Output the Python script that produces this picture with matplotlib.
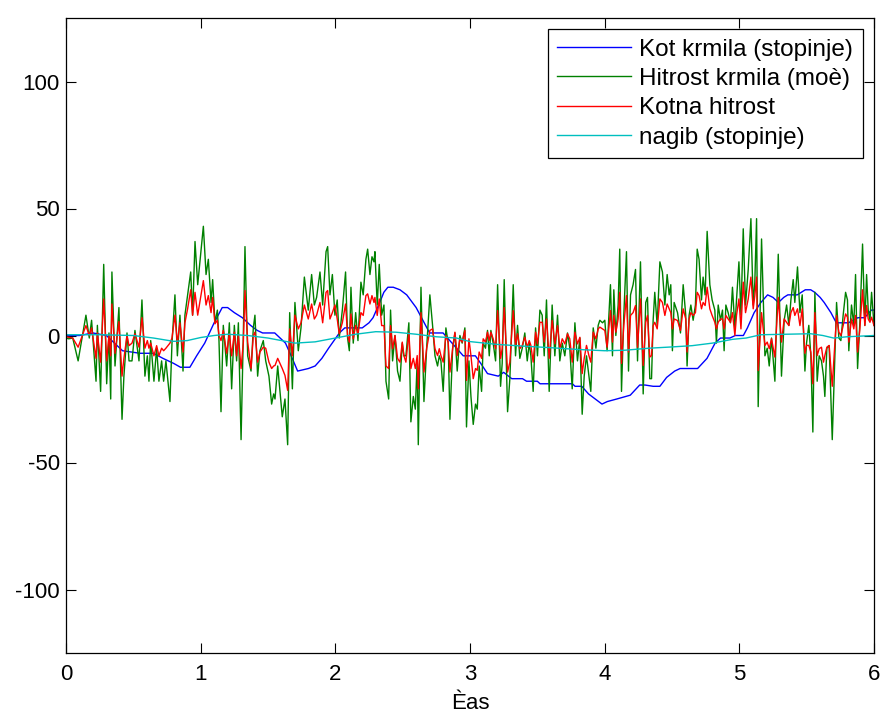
import matplotlib
matplotlib.use('Agg')
import matplotlib.pyplot as plt

plt.rcParams['font.family'] = ['Liberation Sans', 'DejaVu Sans']
plt.rcParams['axes.unicode_minus'] = False

# time samples for the fast signals
t = [0.0, 0.02, 0.05, 0.09, 0.148, 0.173, 0.19, 0.223, 0.233, 0.257, 0.28, 0.302, 0.319, 0.332, 0.341,
     0.364, 0.393, 0.416, 0.43, 0.453, 0.468, 0.49, 0.512, 0.542, 0.564, 0.586, 0.604, 0.616, 0.629,
     0.653, 0.673, 0.69, 0.71, 0.725, 0.742, 0.772, 0.787, 0.809, 0.827, 0.846, 0.869, 0.883, 0.903,
     0.926, 0.94,
     0.958, 0.978, 1.02, 1.04, 1.057, 1.077, 1.089, 1.106, 1.124, 1.136, 1.151, 1.168, 1.193, 1.213,
     1.23, 1.25, 1.267, 1.28, 1.3, 1.317, 1.329, 1.349, 1.374, 1.391, 1.403, 1.423, 1.44, 1.465, 1.483,
     1.507, 1.527, 1.542, 1.552, 1.572, 1.606, 1.626, 1.646, 1.661, 1.681, 1.7, 1.725, 1.745, 1.77,
     1.799, 1.824, 1.844, 1.861, 1.886, 1.906, 1.931, 1.943, 1.96, 1.978,
     1.997, 2.014, 2.029, 2.052, 2.076, 2.091, 2.104, 2.116, 2.133, 2.151, 2.168, 2.19, 2.207, 2.227,
     2.24, 2.257, 2.272, 2.287, 2.294, 2.311, 2.326, 2.344, 2.361, 2.376, 2.396, 2.41, 2.425, 2.443,
     2.462, 2.48, 2.497, 2.509, 2.524, 2.546, 2.561, 2.579, 2.594, 2.608, 2.616, 2.636, 2.658, 2.678,
     2.702, 2.722, 2.74, 2.759, 2.772, 2.784, 2.801, 2.821, 2.838, 2.851, 2.871, 2.888, 2.905, 2.925,
     2.942, 2.962,
     2.974, 2.992, 3.007, 3.024, 3.041, 3.054, 3.068, 3.086, 3.098, 3.115, 3.13, 3.143, 3.155, 3.172,
     3.19, 3.205, 3.227, 3.239, 3.254, 3.279, 3.296, 3.321, 3.338, 3.353, 3.37, 3.388, 3.407, 3.425,
     3.44, 3.452, 3.469, 3.487, 3.501, 3.519, 3.536, 3.551, 3.568, 3.588, 3.61, 3.63, 3.65, 3.667,
     3.685, 3.704, 3.724, 3.741, 3.759, 3.779, 3.798, 3.816, 3.833, 3.848, 3.865, 3.883, 3.897, 3.915,
     3.935, 3.952,
     3.964, 3.984, 4.001, 4.018, 4.043, 4.058, 4.068, 4.083, 4.1, 4.112, 4.125, 4.142, 4.162, 4.177,
     4.192, 4.211, 4.229, 4.244, 4.266, 4.286, 4.305, 4.318, 4.335, 4.348, 4.36, 4.372, 4.39, 4.41,
     4.429, 4.447, 4.464, 4.479, 4.491, 4.503, 4.516, 4.541, 4.563, 4.583, 4.602, 4.612, 4.627, 4.64,
     4.657, 4.674, 4.687, 4.701, 4.719, 4.731, 4.746, 4.761, 4.781, 4.798, 4.818, 4.83, 4.843, 4.86,
     4.875, 4.887, 4.9, 4.917, 4.934, 4.949,
     4.967, 4.979, 4.997, 5.012, 5.029, 5.046, 5.066, 5.086, 5.103, 5.115, 5.128, 5.14, 5.165, 5.19,
     5.207, 5.222, 5.239, 5.264, 5.289, 5.313, 5.333, 5.351, 5.368, 5.383, 5.4, 5.412, 5.432, 5.45,
     5.467, 5.487, 5.499, 5.516, 5.531, 5.546, 5.561, 5.578, 5.593, 5.61, 5.625, 5.635, 5.65, 5.667,
     5.69, 5.704, 5.722, 5.739, 5.754, 5.771, 5.789, 5.803, 5.813, 5.833, 5.85, 5.863, 5.878, 5.895,
     5.915, 5.932, 5.945, 5.957, 5.97, 5.982, 6.0]

hitrost_krmila = [
    -1, -1.3, -1, -10, 8, -1, 6, -18, 4, -22, 28, -19, 1, -25, 25, -12, 11, -33, -16, 1, -10, -10, 2,
    -10, 14, -16, -8, -18, -2, -18, -5, -18, -10, -18, -10, -26, -3, 16, -8, 8, -14, 8, 16, 25, 8,
    37, 20, 43, 24, 30, 13, 22, 5, 10, -2, -30, 4, -12, 5, -21, 4, -10, 5, -41, 1, 35, -8, -14, 3, 8,
    -16, -6, -2, -10, -16, -27, -23, -25, -12, -32, -25, -43, 9, -21, 13, -6, 3, 23, 10, 24, 12, 15,
    25, 12, 33, 35, 16, 24,
    8, 14, -1, 10, 25, -1, -6, 19, -3, 9, -2, 21, 16, 30, 34, 24, 31, 29, 33, 12, 28, 8, 12, -18, -25,
    10, -10, 0, -14, -18, -3, -8, -8, 5, -34, -24, -29, -10, -43, 19, -26, -5, 16, 4, -8, -12, -8, -10,
    -22, 3, -3, -33, -5, 1, -14, 0, -3, 3,
    -36, -10, -24, -35, -27, -29, -12, -22, -3, -5, 2, -8, 2, -3, -10, 20, -20, -11, 22, -30, -17, 20,
    -8, 4, -9, -5, 1, -10, -3, -8, -22, 3, -8, 10, 8, -8, 14, -22, 12, -8, 8, -10, -3, -8, 1, -5, -21,
    5, -10, -1, -31, -16, -8, -16, -22, 3, -5, 4,
    6, 5, 6, -6, 20, -8, 18, 0, 12, 34, -22, 8, 33, -14, 16, 20, 26, -10, 29, -23, 13, 15, -17, -17, 6,
    17, 4, 29, 25, 12, 24, 16, 20, -6, 13, 9, 1, 20, 8, -12, 8, 12, 6, 12, 34, 30, 14, 23, 16, 41, 20,
    14, 10, -3, 12, 6, 10, -6, 12, 9, 5, 19,
    3, 14, 29, 8, 42, 12, 26, 46, 12, 21, 46, -28, 38, -8, -5, -12, -1, -18, 32, -16, 6, 12, 4, 14, 22,
    13, 27, 9, 16, -14, -3, 4, -8, -38, 17, -18, -8, -10, -16, -24, -5, -4, -41, -17, 13, -1, -2, 8,
    17, 14, -6, 12, 4, 24, -13, 5, 36, 4, 24, 10, 6, 17, 4]

kotna_hitrost = [
    -0.5, -0.7, -1, -4.6, 3.9, 0, 3, -9, 1, -10.5, 14.4, -10, 0, -8, 12.4, -7, 5.5, -16, -9, 0, -4, -3,
    0.7, -4.6, 7, -5, -2, -5, -3, -8, -4, -8, -5, -6, -5, -3, -1, 8, -3, 5, -6.5, 5, 10.5, 18, 8,
    17, 8, 21.6, 12, 15.7, 9, 15, 4.6, 6, 0, -2, 2, -7, 0.7, -8, 1.3, -8, 0, -13, -2.6, 17.7, -2.6, -13,
    0, 1.3, -10.5, -6.5, -4.6, -5, -10.5, -13, -12, -11.8, -9, -13, -15.7, -21.6, 2.6, -8, 8, 2.6, 5,
    12, 6.5, 12.4, 6.5, 8, 13, 5, 17, 17.7, 6.5, 9,
    12, 6.5, 0.7, 5, 12.4, 0, -2.6, 8.5, -1.3, 4, 0.7, 9, 7.9, 15.7, 16.4, 12.4, 15.7, 13, 15, 7.9, 14.4,
    3.9, 3.9, -12, -13, 3.9, -5.2, 0, -9, -10.5, -2.6, -7.9, -10.5, 1.3, -13, -9, -13, -7.9, -21, 9,
    -14.4, -5.2, 2, 2.6, -5.2, -7.9, -5.2, -7.9, -10.5, 0, -2.6, -14.4, -5.2, 1.3, -7.9, -1.3, -2.6, 2,
    -17.7, -1.3, -7.9, -17, -13, -13.7, -6.5, -9, -1.3, -2.6, 1.3, -2, 1.3, -1.3, -5.2, 9.8, -9, -5.2,
    11, -14.4, -10.5, 9.8, -3.9, 0.7, -5.2, -3.9, -0.7, -4.6, -2, -3.9, -10.5, 1.3, -3.3, 5.2, 5.2,
    -2.6, 6.5, -9, 5.9, -3.3, 3.9, -5.2, -1.3, -3.3, 0.7, -1.3, -10.5, 1.3, -3.3, -0.7, -15, -9, -3.9,
    -7.9, -10.5, 1.3, -1.3, 2.6,
    3.3, 2.6, 2, -4.6, 9.8, -2.6, 7.9, 1.3, 6.5, 17, -11, 3.9, 15.7, -6.5, 7.9, 9, 11.8, -4.6, 14.4,
    -11.8, 5.2, 7.9, -8.5, -7.9, 3.9, 5.2, 2.6, 14.4, 13, 7.9, 12.4, 10.5, 9, 2.6, 6.5, 5.9, 2, 10.5,
    6.5, -6.5, 6.5, 9, 7.9, 9, 17, 15.7, 10.5, 13, 11.8, 19, 10.5, 7.9, 5.2, 2.6, 5.2, 6.5, 6.5, 2.6,
    7.9, 6.5, 5.2, 9,
    0, 7.9, 14.4, 2.6, 21, 9, 14.4, 23, 10.5, 15.7, 23, -13.8, 9, -3.9, -2.6, -5.2, -1.3, -8.5, 15, -2.6,
    6.5, 5.2, 3.9, 9, 11, 7.9, 10.5, 3.9, 10.5, -7, -3.9, -3.9, -6.5, -19, 9, -7.9, -5.2, -4.6, -10.5,
    -7.9, -4.6, -3.9, -20, -7.9, 7.9, 1.3, 0, 3.9, 8.5, 7.2, -2.6, 6.5, 2.6, 7.9, -6.5, 2.6, 18, 3.9,
    11.8, 6.5, 5.2, 7.2, 3.9]

# slower signals
t_kot = [0, 0.1, 0.2, 0.3, 0.42, 0.55, 0.65, 0.72, 0.8, 0.85, 0.92, 0.97, 1.03, 1.1, 1.16, 1.2, 1.25,
         1.31, 1.37, 1.42, 1.46, 1.55, 1.63, 1.68, 1.72, 1.8, 1.85, 1.9, 1.95, 2.03, 2.07, 2.2, 2.25,
         2.28, 2.33, 2.36, 2.39, 2.43, 2.48, 2.53, 2.6, 2.65, 2.7, 2.8, 2.85, 2.9, 2.95, 3.04, 3.08,
         3.13, 3.21, 3.25, 3.31, 3.39, 3.42, 3.5, 3.52, 3.76, 3.78, 3.83, 3.88, 3.98, 4.02, 4.09, 4.19,
         4.26, 4.3, 4.36, 4.41, 4.46, 4.52, 4.56, 4.69, 4.76, 4.82, 4.86, 4.93, 4.97, 5.03, 5.06, 5.11,
         5.16, 5.21, 5.25, 5.29, 5.33, 5.36, 5.43, 5.49, 5.53, 5.56, 5.6, 5.63, 5.68, 5.72, 5.81, 5.88,
         5.93, 5.98, 6.0]
kot_krmila = [0, 0, 1, 0, -6, -7, -7, -9, -11, -12.5, -12.5, -8, -3, 5, 11, 11, 9, 7, 4, 2, 1, 1, -3,
              -9, -14, -13, -12, -9, -5, 1, 3, 3, 5, 7, 13, 17, 19, 19, 18, 16, 11, 6, 1, 1, -2, -5, -8,
              -8, -11, -15, -16, -14.5, -17, -17, -18, -18, -19, -19, -20, -20, -23, -27, -26, -25,
              -23.5, -19.5, -19.5, -20, -20, -16.5, -14, -13, -13, -9, -3, -1, -1, 0, 0, 3, 9, 13, 16,
              15, 13, 15, 16, 16, 18, 18, 17, 15, 13, 9, 5, 5, 7, 7, 10, 10]

t_nagib = [0, 0.25, 0.5, 0.65, 0.8, 0.9, 1.0, 1.1, 1.2, 1.35, 1.5, 1.7, 1.85, 2.0, 2.15, 2.3, 2.45,
           2.6, 2.75, 2.9, 3.0, 3.2, 3.4, 3.6, 3.8, 4.0, 4.15, 4.33, 4.5, 4.65, 4.8, 4.95, 5.05, 5.16,
           5.35, 5.53, 5.62, 5.7, 5.8, 6.0]
nagib = [0.3, 0.3, 0, -1, -2.3, -2, -0.8, 0, 0.5, 0, -1, -3, -2.5, -1, 0.5, 1.5, 1.3, 0.5, -0.5, -1,
         -2.4, -3.5, -4.2, -4.8, -5.5, -6, -5.8, -5, -4.5, -4, -3, -1.5, -1, 0.3, 0.5, 0.7, 0, -1, -0.5, 0]

labels = ['Kot krmila (stopinje)', 'Hitrost krmila (moè)', 'Kotna hitrost', 'nagib (stopinje)']

fig = plt.figure(figsize=(8.83, 7.2), dpi=100)
ax = fig.add_axes([66 / 883, 67 / 720, 808 / 883, 635 / 720])

ax.plot(t_kot, kot_krmila, color=(0, 0, 1), lw=1.0, label=labels[0])
ax.plot(t, hitrost_krmila, color=(0, 0.5, 0), lw=1.0, label=labels[1])
ax.plot(t, kotna_hitrost, color=(1, 0, 0), lw=1.0, label=labels[2])
ax.plot(t_nagib, nagib, color=(0, 0.75, 0.75), lw=1.0, label=labels[3])

ax.set_xlim(0, 6)
ax.set_ylim(-125, 125)
ax.set_xticks(range(7))
ax.set_yticks([-100, -50, 0, 50, 100])
ax.tick_params(direction='in', top=True, right=True, length=7, width=0.8, labelsize=16)
ax.tick_params(axis='x', pad=8)
ax.tick_params(axis='y', pad=4.5)
for s in ax.spines.values():
    s.set_linewidth(0.9)
ax.set_xlabel('Èas', fontsize=16, labelpad=6)

leg = ax.legend(loc='upper right', fontsize=17.5, fancybox=False, framealpha=1, edgecolor='k',
                handlelength=3.05, handletextpad=0.33, labelspacing=0.3, borderaxespad=0.45,
                borderpad=0.4)
leg.get_frame().set_linewidth(0.9)

fig.savefig('out.png', dpi=100)
